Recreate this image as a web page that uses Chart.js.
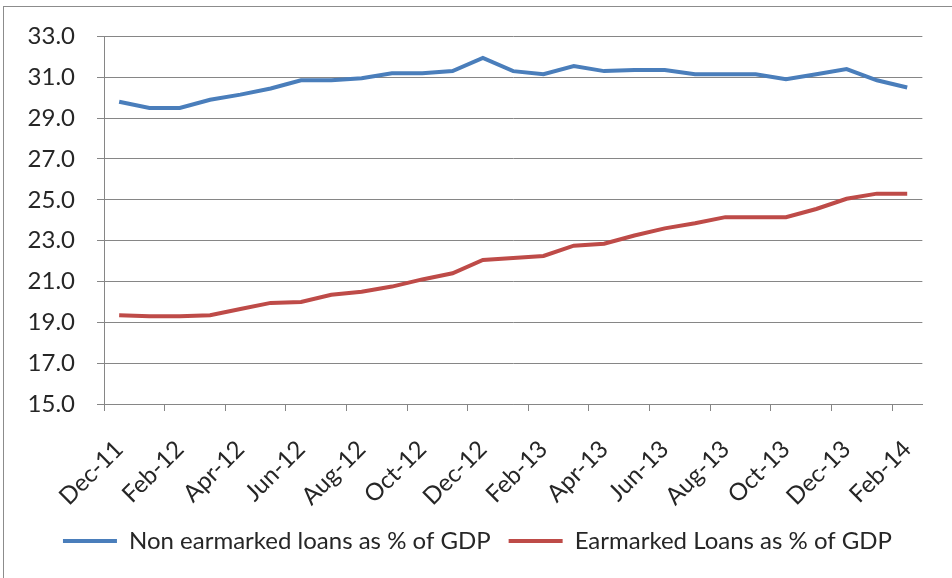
<!DOCTYPE html>
<html>
<head>
<meta charset="utf-8">
<script src="https://cdn.jsdelivr.net/npm/chart.js@4/dist/chart.umd.min.js"></script>
<style>
  html, body { margin: 0; padding: 0; background: #fff; }
  #wrap { position: relative; width: 952px; height: 578px; }
  #frame { position: absolute; left: 3px; top: 6px; right: 0; bottom: 0;
           border-top: 1px solid #8c8c8c; border-left: 1px solid #8c8c8c; pointer-events: none; }
</style>
</head>
<body>
<div id="wrap">
  <canvas id="loans" width="952" height="578"></canvas>
  <div id="frame"></div>
</div>
<script>
const months = ['Dec-11', 'Jan-12', 'Feb-12', 'Mar-12', 'Apr-12', 'May-12', 'Jun-12', 'Jul-12', 'Aug-12',
  'Sep-12', 'Oct-12', 'Nov-12', 'Dec-12', 'Jan-13', 'Feb-13', 'Mar-13', 'Apr-13', 'May-13', 'Jun-13',
  'Jul-13', 'Aug-13', 'Sep-13', 'Oct-13', 'Nov-13', 'Dec-13', 'Jan-14', 'Feb-14'];

const nonEarmarked = [29.8, 29.5, 29.5, 29.9, 30.15, 30.45, 30.85, 30.85, 30.95, 31.2, 31.2, 31.3, 31.95,
  31.3, 31.15, 31.55, 31.3, 31.35, 31.35, 31.15, 31.15, 31.15, 30.9, 31.15, 31.4, 30.85, 30.5];

const earmarked = [19.35, 19.3, 19.3, 19.35, 19.65, 19.95, 20.0, 20.35, 20.5, 20.75, 21.1, 21.4, 22.05,
  22.15, 22.25, 22.75, 22.85, 23.25, 23.6, 23.85, 24.15, 24.15, 24.15, 24.55, 25.05, 25.3, 25.3];

const yMin = 15;
const yMax = 33;
const yStep = 2;

const fontFamily = "Lato, 'Liberation Sans', Arial, sans-serif";
const gridGrey = '#868686';
const textColor = '#262626';

new Chart(document.getElementById('loans'), {
  type: 'line',
  data: {
    labels: months,
    datasets: [{
      label: 'Non earmarked loans as % of GDP',
      data: nonEarmarked,
      borderColor: '#4a7ebb',
      backgroundColor: '#4a7ebb',
      borderWidth: 4,
      pointRadius: 0,
      tension: 0
    }, {
      label: 'Earmarked Loans as % of GDP',
      data: earmarked,
      borderColor: '#be4b48',
      backgroundColor: '#be4b48',
      borderWidth: 4,
      pointRadius: 0,
      tension: 0
    }]
  },
  options: {
    responsive: false,
    animation: false,
    layout: {
      padding: { left: 26, right: 23, top: 35, bottom: 15 }
    },
    scales: {
      x: {
        offset: true,
        grid: {
          offset: true,
          drawOnChartArea: false,
          tickLength: 7,
          color: (c) => (c.index % 2 === 0 ? gridGrey : 'rgba(0,0,0,0)')
        },
        border: { color: gridGrey, width: 1 },
        ticks: {
          autoSkip: false,
          maxRotation: 45,
          minRotation: 45,
          padding: 24,
          color: textColor,
          font: { family: fontFamily, size: 24 },
          callback: function (v, i) {
            return i % 2 === 0 ? this.getLabelForValue(v) : '';
          }
        },
        afterFit: (scale) => { scale.height = 107; }
      },
      y: {
        min: yMin,
        max: yMax,
        grid: { color: gridGrey, tickLength: 7 },
        border: { color: gridGrey, width: 1 },
        ticks: {
          stepSize: yStep,
          color: textColor,
          padding: 22,
          font: { family: fontFamily, size: 24 },
          callback: (v) => v.toFixed(1)
        },
        afterFit: (scale) => { scale.width = 78; }
      }
    },
    plugins: {
      tooltip: { enabled: false },
      legend: {
        position: 'bottom',
        labels: {
          usePointStyle: true,
          pointStyle: 'line',
          pointStyleWidth: 54,
          padding: 18,
          color: textColor,
          font: { family: fontFamily, size: 24 }
        }
      }
    }
  }
});
</script>
</body>
</html>
